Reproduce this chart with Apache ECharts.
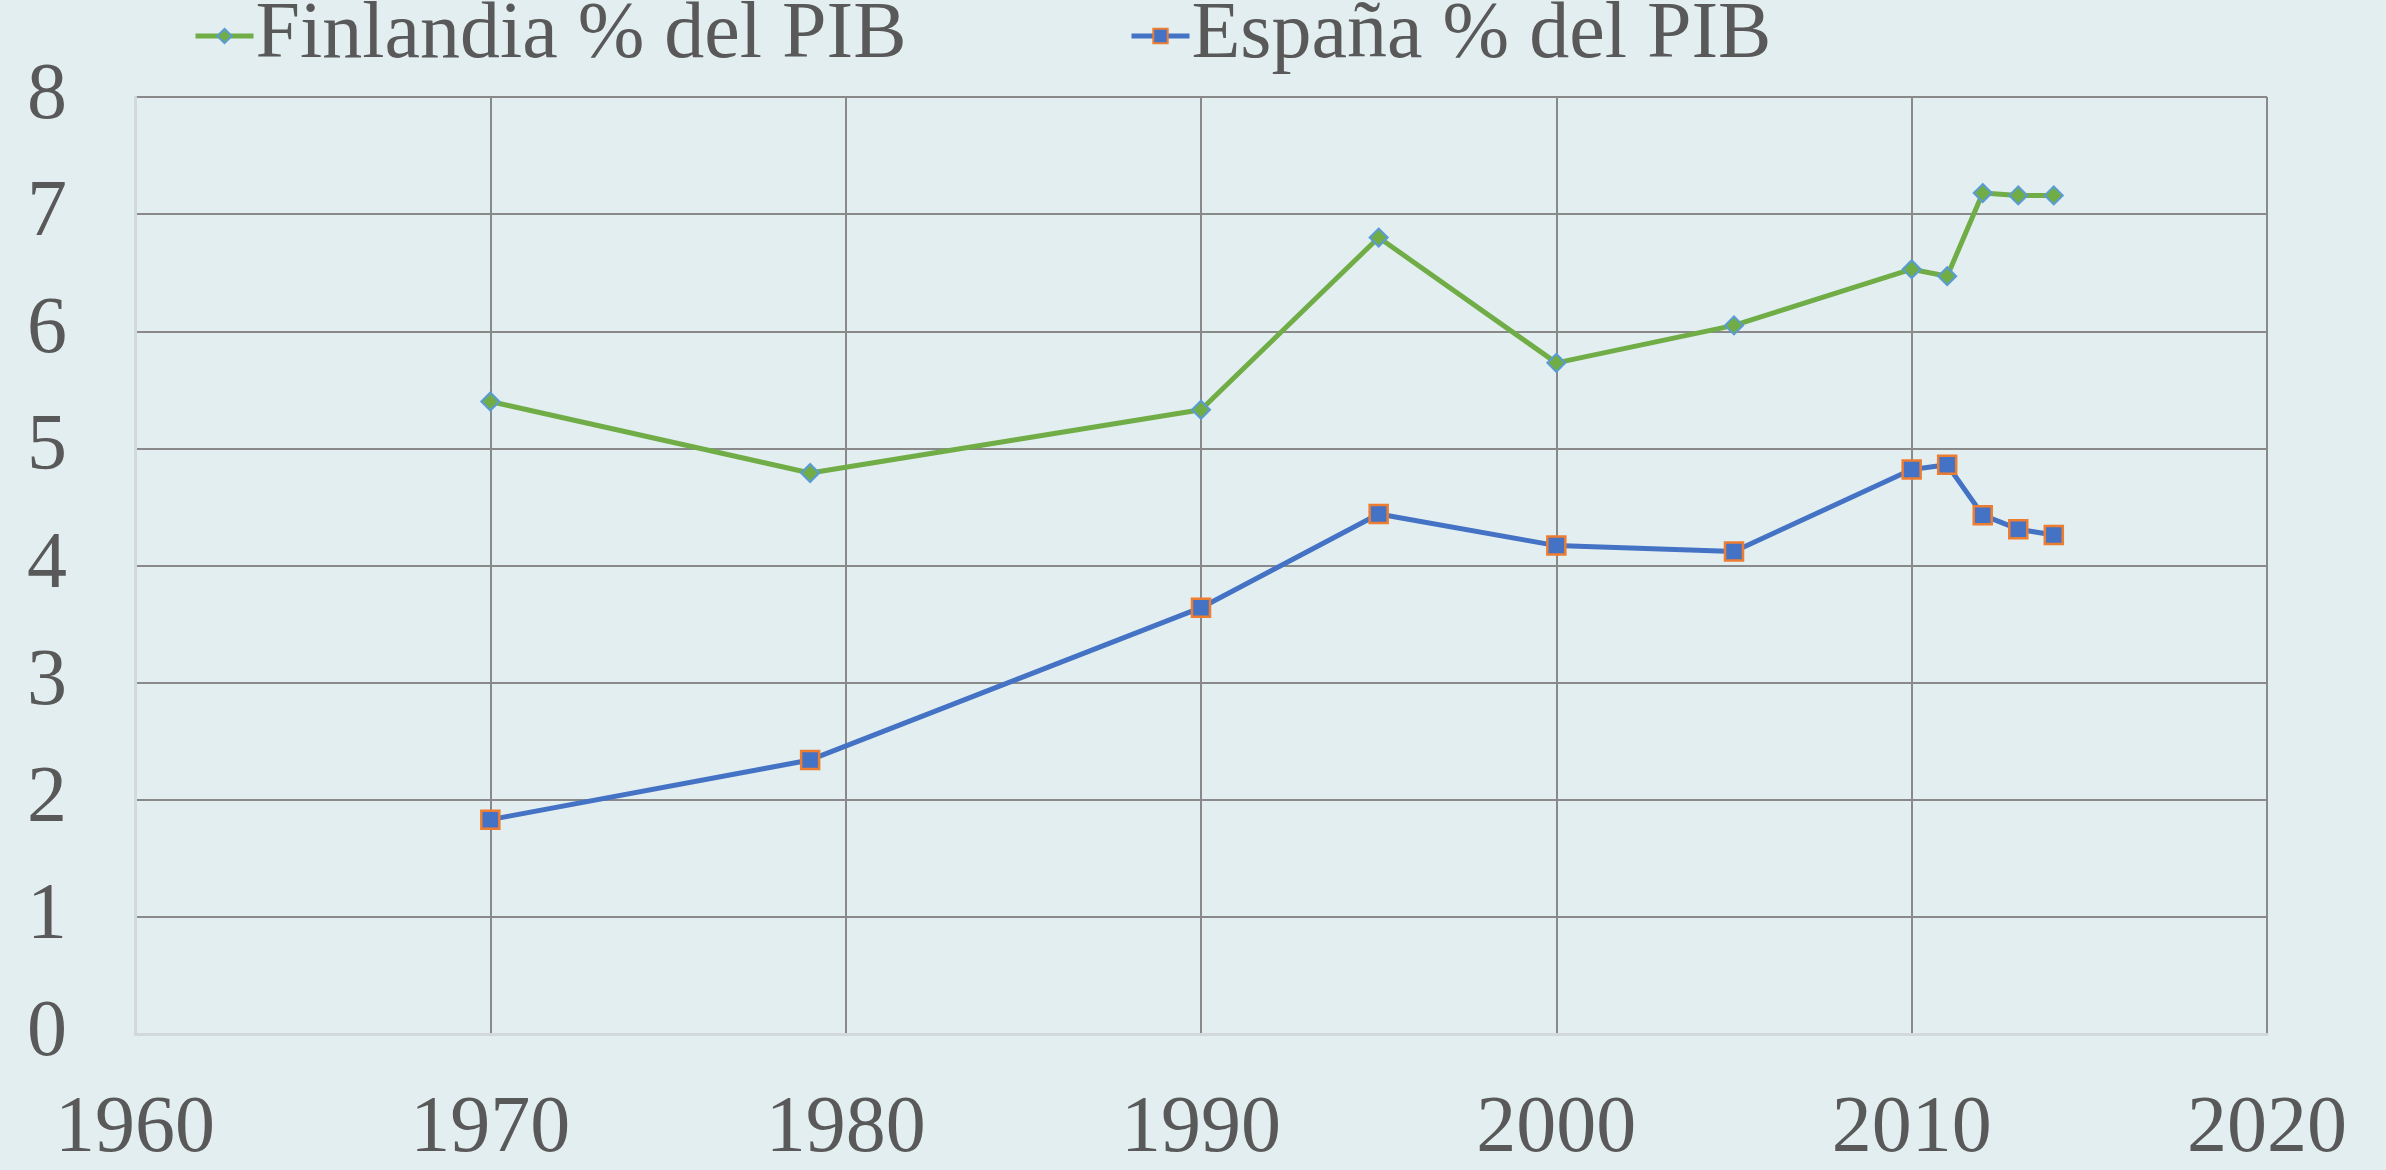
<!DOCTYPE html>
<html>
<head>
<meta charset="utf-8">
<script src="https://cdn.jsdelivr.net/npm/echarts@6/dist/echarts.min.js"></script>
<style>
  html, body { margin: 0; padding: 0; background: #E2EEF0; }
  #main { width: 2386px; height: 1170px; }
</style>
</head>
<body>
<div id="main"></div>
<script>
var years = [1970, 1979, 1990, 1995, 2000, 2005, 2010, 2011, 2012, 2013, 2014];
var finlandia = [5.40, 4.79, 5.33, 6.80, 5.73, 6.05, 6.53, 6.47, 7.18, 7.16, 7.16];
var espana = [1.83, 2.34, 3.64, 4.44, 4.17, 4.12, 4.82, 4.86, 4.43, 4.31, 4.26];
var seriesNames = ['Finlandia % del PIB', 'España % del PIB'];

function pairs(vals) {
    var out = [];
    for (var i = 0; i < years.length; i++) {
        out.push([years[i], vals[i]]);
    }
    return out;
}

var textFont = 'Liberation Serif';
var textColor = '#595959';

var myChart = echarts.init(document.getElementById('main'));
var option = {
    backgroundColor: '#E2EEF0',
    animation: false,
    legend: [
        {
            data: [seriesNames[0]],
            left: 193,
            top: -4,
            padding: 0,
            itemWidth: 58,
            itemHeight: 18,
            itemGap: 0,
            lineStyle: { width: 5 },
            textStyle: { fontFamily: textFont, fontSize: 80, color: textColor, padding: [0, 0, 0, -3] }
        },
        {
            data: [seriesNames[1]],
            left: 1129,
            top: -4,
            padding: 0,
            itemWidth: 58,
            itemHeight: 18,
            itemGap: 0,
            lineStyle: { width: 5 },
            textStyle: { fontFamily: textFont, fontSize: 80, color: textColor, padding: [0, 0, 0, -3] }
        }
    ],
    grid: {
        left: 135,
        right: 119,
        top: 97,
        bottom: 135,
        containLabel: false
    },
    xAxis: {
        type: 'value',
        min: 1960,
        max: 2020,
        interval: 10,
        axisLine: { show: true, lineStyle: { color: '#D3D9DB', width: 3 } },
        axisTick: { show: false },
        axisLabel: {
            fontFamily: textFont, fontSize: 80, color: textColor, margin: 56,
            formatter: function (v) { return String(v); }
        },
        splitLine: { show: true, lineStyle: { color: '#898989', width: 2 } }
    },
    yAxis: {
        type: 'value',
        min: 0,
        max: 8,
        interval: 1,
        axisLine: { show: true, lineStyle: { color: '#D3D9DB', width: 3 } },
        axisTick: { show: false },
        axisLabel: { fontFamily: textFont, fontSize: 80, color: textColor, margin: 68 },
        splitLine: { show: true, lineStyle: { color: '#898989', width: 2 } }
    },
    series: [
        {
            name: seriesNames[0],
            type: 'line',
            data: pairs(finlandia),
            symbol: 'diamond',
            symbolSize: [18, 18],
            lineStyle: { color: '#70AD47', width: 5 },
            itemStyle: { color: '#70AD47', borderColor: '#5B9BD5', borderWidth: 2 },
            z: 3
        },
        {
            name: seriesNames[1],
            type: 'line',
            data: pairs(espana),
            symbol: 'rect',
            symbolSize: 18,
            lineStyle: { color: '#4472C4', width: 5 },
            itemStyle: { color: '#4472C4', borderColor: '#ED7D31', borderWidth: 2.5 },
            z: 4
        }
    ]
};
myChart.setOption(option);
</script>
</body>
</html>
